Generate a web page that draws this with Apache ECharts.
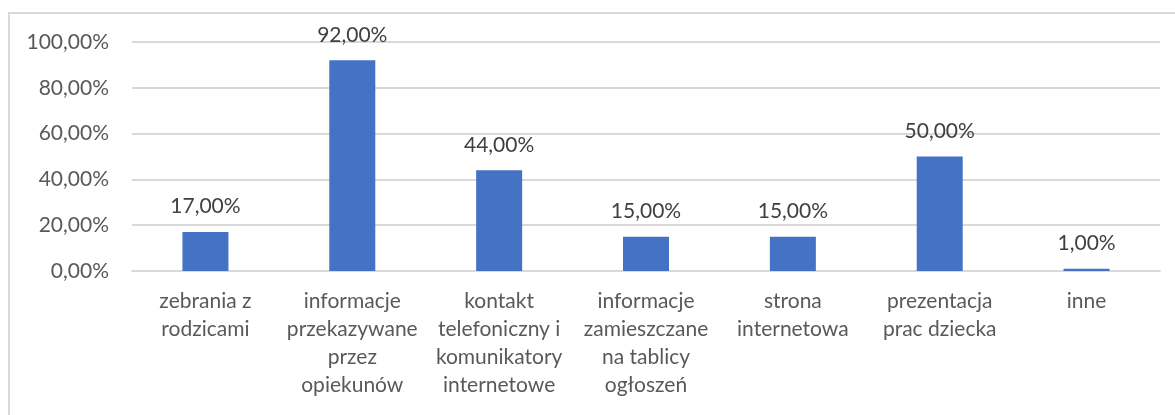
<!DOCTYPE html>
<html>
<head>
<meta charset="utf-8">
<script src="https://cdn.jsdelivr.net/npm/echarts@6/dist/echarts.min.js"></script>
<style>
  html, body { margin: 0; padding: 0; background: #fff; overflow: hidden; }
  #main { width: 1175px; height: 415px; }
</style>
</head>
<body>
<div id="main"></div>
<script>
// kategorie (osi X) - podzial linii jak w oryginale
var categories = [
  "zebrania z\nrodzicami",
  "informacje\nprzekazywane\nprzez\nopiekunów",
  "kontakt\ntelefoniczny i\nkomunikatory\ninternetowe",
  "informacje\nzamieszczane\nna tablicy\nogłoszeń",
  "strona\ninternetowa",
  "prezentacja\nprac dziecka",
  "inne"
];
// wartosci w %
var values = [17, 92, 44, 15, 15, 50, 1];
var yTicks = { min: 0, max: 100, interval: 20 };

function pct(v) {
  return v.toFixed(2).replace(".", ",") + "%";
}

var font = "Lato, 'Open Sans', sans-serif";

var option = {
  animation: false,
  graphic: [
    {
      type: "rect",
      silent: true,
      shape: { x: 9, y: 13, width: 1400, height: 600 },
      style: { fill: "none", stroke: "#d9d9d9", lineWidth: 2 }
    }
  ],
  grid: {
    left: 132,
    right: 15,
    top: 42,
    bottom: 144
  },
  xAxis: {
    type: "category",
    data: categories,
    axisLine: { lineStyle: { color: "#d9d9d9", width: 2 } },
    axisTick: { show: false },
    axisLabel: {
      interval: 0,
      color: "#595959",
      fontFamily: font,
      fontSize: 21,
      lineHeight: 28,
      margin: 16,
      overflow: "none"
    }
  },
  yAxis: {
    type: "value",
    min: yTicks.min,
    max: yTicks.max,
    interval: yTicks.interval,
    axisLine: { show: false },
    axisTick: { show: false },
    splitLine: { lineStyle: { color: "#d9d9d9", width: 2 } },
    axisLabel: {
      color: "#595959",
      fontFamily: font,
      fontSize: 21,
      margin: 23,
      formatter: function (v) { return pct(v); }
    }
  },
  series: [
    {
      type: "bar",
      data: values,
      barWidth: 46,
      itemStyle: { color: "#4472c4" },
      label: {
        show: true,
        position: "top",
        distance: 15,
        color: "#404040",
        fontFamily: font,
        fontSize: 21,
        formatter: function (p) { return pct(p.value); }
      }
    }
  ]
};

var myChart = echarts.init(document.getElementById("main"));
myChart.setOption(option);
</script>
</body>
</html>
